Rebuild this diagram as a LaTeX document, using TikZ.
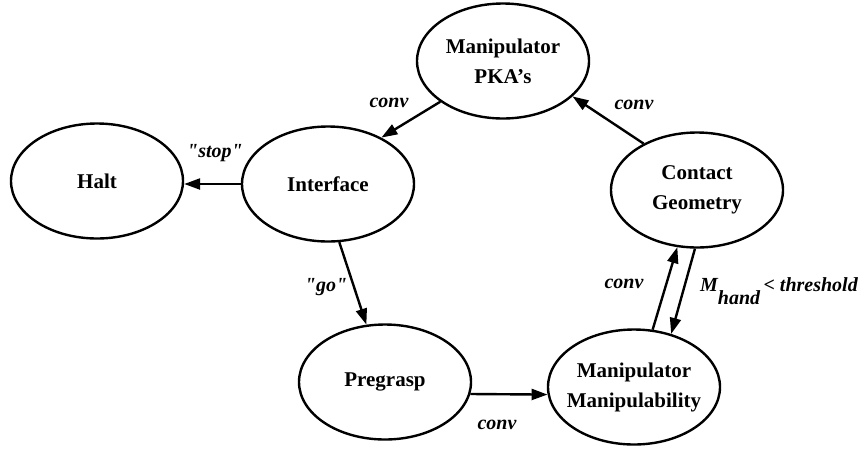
\documentclass[tikz,border=0pt]{standalone}
\usepackage{fontspec}
\setmainfont{Liberation Serif}
\usetikzlibrary{shapes.geometric,arrows.meta}
\begin{document}
\begin{tikzpicture}[x=1pt,y=-1pt,
  state/.style={draw,ellipse,line width=2.4pt,minimum width=172pt,minimum height=115pt,inner sep=-25pt,align=center,font=\fontsize{21}{30}\selectfont\bfseries},
  conn/.style={line width=2.4pt,-{Triangle[length=16pt,width=11pt]}},
  lbl/.style={font=\fontsize{20}{24}\selectfont\bfseries\itshape\addfontfeature{Ligatures=TeXOff},inner sep=0pt}]
\useasboundingbox (0,0) rectangle (864,451);
\node[state] (halt) at (97,181) {Halt};
\node[state] (itf) at (328,184) {Interface};
\node[state] (pka) at (503,61) {Manipulator\\PKA’s};
\node[state] (cg) at (697,190) {Contact\\Geometry};
\node[state] (pre) at (385,382) {Pregrasp};
\node[state] (mm) at (634,387) {Manipulator\\Manipulability};
\draw[conn] (pka.213) -- (itf.41);
\draw[conn] (cg.139) -- (pka.333);
\draw[conn] (itf.west) -- (itf.west -| halt.east);
\draw[conn] (itf.281) -- (pre.108);
\draw[conn] (pre.352) -- (mm.185);
\draw[conn] (mm.72) -- (cg.251);
\draw[conn] (cg.268) -- (mm.55);
\node[lbl] (lstop) at (215,153) {"stop"};
\node[lbl] (lc1) at (389,103) {conv};
\node[lbl] (lc2) at (634,105) {conv};
\node[lbl] (lgo) at (326,287) {"go"};
\node[lbl] (lc3) at (497,425) {conv};
\node[lbl] (lc4) at (624,284) {conv};
\node[lbl,anchor=base west] (lth) at (700,291) {M\raisebox{-13pt}{hand}\,< threshold};
\end{tikzpicture}
\end{document}
